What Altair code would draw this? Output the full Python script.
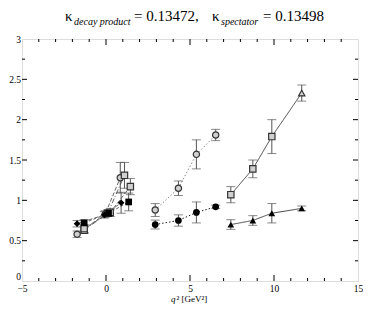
import altair as alt
import pandas as pd

# ---------------- data ----------------
series_names = ["A", "B", "C", "D", "E", "F", "G", "H", "I"]

A_q = [2.93, 4.31, 5.38, 6.53]
A_v = [0.88, 1.15, 1.57, 1.81]
A_e = [0.08, 0.09, 0.18, 0.07]

B_q = [2.93, 4.31, 5.38, 6.53]
B_v = [0.70, 0.75, 0.85, 0.92]
B_e = [0.055, 0.07, 0.13, 0.02]

C_q = [7.43, 8.74, 9.87, 11.65]
C_v = [1.07, 1.39, 1.79, 2.33]
C_e = [0.10, 0.11, 0.21, 0.10]

D_q = [7.43, 8.74, 9.87, 11.65]
D_v = [0.70, 0.75, 0.84, 0.90]
D_e = [0.06, 0.06, 0.12, 0.03]

E_q = [-1.72, -0.05, 0.85]
E_v = [0.58, 0.83, 1.28]
E_e = [0.04, 0.04, 0.19]

F_q = [-1.30, 0.10, 1.10]
F_v = [0.63, 0.84, 1.31]
F_e = [0.04, 0.04, 0.16]

G_q = [-1.30, 0.25, 1.45]
G_v = [0.65, 0.85, 1.17]
G_e = [0.05, 0.05, 0.10]

H_q = [-1.72, -0.10, 0.90]
H_v = [0.71, 0.82, 0.97]
H_e = [0.04, 0.04, 0.13]

I_q = [-1.30, 0.15, 1.35]
I_v = [0.72, 0.84, 0.98]
I_e = [0.04, 0.04, 0.11]

series_shapes = {
    "A": ["circle"] * 4,
    "B": ["circle"] * 4,
    "C": ["square", "square", "square", "triangle-up"],
    "D": ["triangle-up"] * 4,
    "E": ["circle"] * 3,
    "F": ["square"] * 3,
    "G": ["square"] * 3,
    "H": ["diamond"] * 3,
    "I": ["square"] * 3,
}
series_filled = {"A": False, "B": True, "C": False, "D": True, "E": False,
                 "F": False, "G": False, "H": True, "I": True}
line_dashes = [[1.5, 2], [1.5, 2], [1, 0], [1, 0], [4, 2], [5, 2, 1, 2], [4, 2], [4, 2], [3, 2]]
line_colors = ["#888888", "#222222", "#444444", "#444444", "#666666", "#666666", "#666666", "#666666", "#666666"]

x_labels = [-5, 0, 5, 10, 15]
y_labels = [0, 0.5, 1, 1.5, 2, 2.5, 3]
x_major_ticks = [0, 5, 10]
x_minor_ticks = [-4, -3, -2, -1, 1, 2, 3, 4, 6, 7, 8, 9, 11, 12, 13, 14]
y_major_ticks = [0.5, 1, 1.5, 2, 2.5]
y_minor_ticks = [0.25, 0.75, 1.25, 1.75, 2.25, 2.75]

# ---------------- table ----------------
raw = {"A": (A_q, A_v, A_e), "B": (B_q, B_v, B_e), "C": (C_q, C_v, C_e),
       "D": (D_q, D_v, D_e), "E": (E_q, E_v, E_e), "F": (F_q, F_v, F_e),
       "G": (G_q, G_v, G_e), "H": (H_q, H_v, H_e), "I": (I_q, I_v, I_e)}
rows = []
for s in series_names:
    qs, vs, es = raw[s]
    for i, (q, v, e) in enumerate(zip(qs, vs, es)):
        rows.append({"series": s, "q": q, "v": v, "lo": v - e, "hi": v + e,
                     "shape": series_shapes[s][i], "filled": series_filled[s]})
df = pd.DataFrame(rows)

W, H = 336, 242
PL, PT = 14, 31          # plot origin on the page: (8+PL, 8+PT)
FONT = "Liberation Serif"

xs = alt.Scale(domain=[-5, 15], nice=False, zero=False, padding=0)
ys = alt.Scale(domain=[0, 3], nice=False, zero=False, padding=0)
xax = alt.Axis(values=x_labels, ticks=False, domain=False, grid=False, labelPadding=2,
               labelFlush=False, labelOverlap=False,
               labelFont=FONT, labelFontSize=9.5, labelColor="#000", title=None)
yax = alt.Axis(values=y_labels, ticks=False, domain=False, grid=False, labelPadding=1.5,
               labelFlush=False, labelOverlap=False,
               labelBaseline={"condition": {"test": "datum.value == 0", "value": "bottom"}, "value": "middle"},
               format="~g", labelFont=FONT, labelFontSize=9.5, labelColor="#000", title=None)

base = alt.Chart(df)
X = alt.X("q:Q", scale=xs, axis=xax)
Y = alt.Y("v:Q", scale=ys, axis=yax)

lines = base.mark_line(strokeWidth=1).encode(
    x=X, y=Y, detail="series:N",
    color=alt.Color("series:N", scale=alt.Scale(domain=series_names, range=line_colors), legend=None),
    strokeDash=alt.StrokeDash("series:N", scale=alt.Scale(domain=series_names, range=line_dashes), legend=None),
    order="q:Q",
)
err = base.mark_rule(color="#555", strokeWidth=1).encode(
    x=X, y=alt.Y("lo:Q", scale=ys, axis=yax), y2="hi:Q")
cap_lo = base.mark_tick(orient="horizontal", size=9, thickness=1, color="#555").encode(
    x=X, y=alt.Y("lo:Q", scale=ys, axis=yax))
cap_hi = base.mark_tick(orient="horizontal", size=9, thickness=1, color="#555").encode(
    x=X, y=alt.Y("hi:Q", scale=ys, axis=yax))
pts_open = base.transform_filter("!datum.filled").mark_point(
    filled=False, size=40, stroke="#333", strokeWidth=1.2, fill="#d0d0d0", fillOpacity=1).encode(
    x=X, y=Y, shape=alt.Shape("shape:N", scale=None))
pts_fill = base.transform_filter("datum.filled").mark_point(
    filled=True, size=45, color="#000", opacity=1).encode(
    x=X, y=Y, shape=alt.Shape("shape:N", scale=None))

def xticks(vals, ln):
    d = alt.Chart(pd.DataFrame({"t": vals}))
    xe = alt.X("t:Q", scale=xs, axis=xax)
    b = d.mark_rule(color="#000", strokeWidth=1).encode(x=xe, y=alt.value(H), y2=alt.value(H - ln))
    t = d.mark_rule(color="#000", strokeWidth=1).encode(x=xe, y=alt.value(0), y2=alt.value(ln))
    return [b, t]

def yticks(vals, ln):
    d = alt.Chart(pd.DataFrame({"t": vals}))
    ye = alt.Y("t:Q", scale=ys, axis=yax)
    l = d.mark_rule(color="#000", strokeWidth=1).encode(y=ye, x=alt.value(0), x2=alt.value(ln))
    r = d.mark_rule(color="#000", strokeWidth=1).encode(y=ye, x=alt.value(W), x2=alt.value(W - ln))
    return [l, r]

tick_layers = xticks(x_major_ticks, 6) + xticks(x_minor_ticks, 3) + yticks(y_major_ticks, 5) + yticks(y_minor_ticks, 3)

one = alt.Chart(pd.DataFrame({"k": [0]}))
def txt(s, px, py, size, italic=False):
    return one.mark_text(align="left", baseline="alphabetic", font=FONT, fontSize=size,
                         fontStyle="italic" if italic else "normal", color="#000").encode(
        x=alt.value(px), y=alt.value(py), text=alt.value(s))

# text pieces, given in page pixels and shifted to the plot origin
ox, oy = 8 + PL, 8 + PT
TB = 20.5 - oy
SB = 25 - oy
title_layers = [
    txt("κ", 65 - ox, TB, 15),
    txt("decay product", 74 - ox, SB, 10, italic=True),
    txt("= 0.13472,", 134 - ox, TB, 15),
    txt("κ", 212 - ox, TB, 15),
    txt("spectator", 221 - ox, SB, 10, italic=True),
    txt("= 0.13498", 263 - ox, TB, 15),
    txt("q", 171 - ox, 302 - oy, 9, italic=True),
    txt("² [GeV²]", 176.5 - ox, 302 - oy, 9),
]

chart = alt.layer(lines, err, cap_lo, cap_hi, pts_open, pts_fill, *tick_layers, *title_layers).properties(
    width=W, height=H,
    autosize=alt.AutoSizeParams(type="none"),
    padding={"left": PL, "top": PT, "right": 5, "bottom": 23},
).configure_view(stroke="#222", strokeWidth=1.2).configure(background="white")

chart.save("out.html", embed_options={"renderer": "svg", "actions": False})
